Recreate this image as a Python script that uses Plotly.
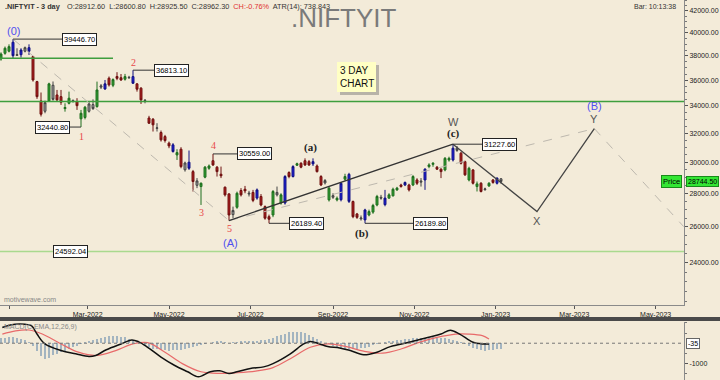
import numpy as np
import pandas as pd
import plotly.graph_objects as go

# ---------------- data ----------------
bar_dates = pd.date_range("2021-12-26", periods=126, freq="3D")

opens = [37740, 38220, 38400, 39170, 38050, 38100, 38400, 38700, 37940, 35890,
         34380, 33600, 34380, 35600, 34840, 34710, 33800, 34200, 34350, 34330,
         33040, 33140, 33600, 34100, 33950, 35450, 35310, 36160, 35600, 36300,
         36200, 36080, 36200, 36290, 35710, 35370, 34400, 33100, 33010, 32350,
         32050, 31760, 31300, 31180, 30490, 30880, 29500, 30000, 29380, 28500,
         28420, 29020, 29600, 30100, 29670, 29210, 28380, 27960, 26700, 27140,
         28170, 28250, 27950, 28050, 27700, 27800, 27180, 26580, 26680, 28050,
         27400, 27400, 29320, 29060, 29800, 29930, 30100, 30040, 29890, 29750,
         29060, 28650, 27590, 27750, 27590, 27600, 28890, 29200, 27490, 26740,
         26450, 26390, 26680, 26850, 27280, 27750, 27300, 27700, 27840, 28210,
         28520, 28520, 28520, 28520, 28840, 28700, 28840, 29710, 29860, 29670,
         29540, 29490, 30150, 30150, 30950, 30610, 30040, 28840, 29490, 28420,
         28630, 28230, 28460, 28840, 28630, 28912.6]
highs = [38300, 38800, 38990, 39446.7, 38650, 38650, 38800, 38990, 38000, 35950,
         35030, 34400, 35800, 35900, 35230, 35230, 34200, 35100, 34500, 34590,
         33700, 34000, 34380, 34500, 35890, 35700, 36020, 36300, 36150, 36650,
         36500, 36510, 36350, 36813.1, 35760, 35450, 34510, 33260, 33100, 32720,
         32190, 31880, 31410, 31300, 30880, 31020, 30040, 30790, 29490, 28960,
         28680, 29750, 29850, 30559.0, 29750, 29710, 28420, 28000, 27180, 28100,
         28320, 28460, 28150, 28210, 28300, 27950, 27250, 26700, 28200, 28420,
         28000, 29150, 29400, 29800, 29970, 30000, 30260, 30150, 30260, 29850,
         29150, 28900, 28400, 28000, 27800, 28700, 29240, 29300, 27550, 26800,
         26650, 27050, 27000, 27350, 27900, 27900, 28210, 28000, 28350, 28400,
         28600, 28740, 28600, 29150, 28950, 28960, 29600, 29930, 30000, 29750,
         29600, 30350, 30370, 31227.6, 31100, 30700, 30100, 29700, 29550, 28740,
         28700, 28350, 28700, 28900, 29000, 28962.3]
lows = [37600, 38100, 38300, 37740, 38000, 37860, 38300, 38080, 35890, 34540,
        33210, 33450, 34300, 34400, 34380, 34080, 33570, 34120, 34250, 33700,
        32440.8, 33000, 33500, 33700, 33870, 35300, 35230, 35500, 35450, 36000,
        35950, 35970, 36100, 35700, 35100, 34150, 34200, 32670, 32120, 32120,
        31410, 31340, 30950, 30650, 30150, 29600, 29380, 29490, 28110, 28320,
        27280, 28950, 29500, 29750, 29060, 28960, 27800, 26350, 26490, 27050,
        27800, 28000, 27800, 27450, 27600, 27200, 26400, 26189.4, 26550, 27800,
        27300, 27300, 28950, 29000, 29750, 29600, 29750, 29750, 29750, 29320,
        28450, 28550, 27490, 27650, 27500, 27500, 28800, 27400, 26490, 26450,
        26350, 26189.8, 26600, 26750, 27200, 27600, 27200, 27650, 27800, 28150,
        28350, 28450, 28110, 28450, 28520, 28420, 28210, 29600, 29700, 29490,
        28960, 29400, 30040, 30050, 30700, 29850, 29100, 28750, 28550, 28110,
        28050, 28150, 28400, 28600, 28550, 28600.8]
closes = [38160, 38650, 38790, 38020, 38100, 38500, 38700, 38400, 36020, 34710,
          33380, 34250, 35710, 34500, 34460, 34280, 33880, 34590, 34400, 34020,
          33450, 33900, 34150, 33800, 35230, 35550, 35710, 35630, 36050, 36150,
          36020, 36290, 36230, 35760, 35290, 34460, 34430, 32720, 32600, 32380,
          31530, 31480, 31110, 30720, 30650, 29710, 29950, 29600, 28740, 28780,
          28630, 29670, 29750, 29820, 29380, 29110, 27900, 26680, 26950, 28000,
          27900, 28150, 28000, 27560, 28210, 27280, 26490, 26430, 28110, 27900,
          27900, 29060, 29060, 29710, 29900, 29670, 29820, 29820, 30040, 29380,
          28520, 28800, 28320, 27850, 27690, 28630, 29060, 27500, 26580, 26540,
          26500, 26980, 26880, 27250, 27800, 27700, 27700, 27900, 28250, 28320,
          28420, 28680, 28210, 29060, 28630, 28760, 29540, 29820, 29930, 29540,
          29380, 30260, 30260, 30950, 30800, 29930, 29170, 29600, 28630, 28590,
          28110, 28270, 28630, 28680, 28960, 28744.5]

blue_bars = [3, 5, 7, 26, 33, 43, 47, 64, 71, 73, 78, 85, 87, 91, 96, 101, 106, 113, 124]
gray_bars = [4, 6, 11, 13, 18, 22, 23, 25, 32, 36, 39, 46, 49, 58, 62, 69, 81, 83, 90,
             95, 105, 114, 121, 125]

price_ticks = [24000, 26000, 28000, 30000, 32000, 34000, 36000, 38000, 40000, 42000]

# pivots with value boxes
pivot_bars = [3, 33, 20, 53, 67, 91, 113]
pivot_values = [39446.70, 36813.10, 32440.80, 30559.00, 26189.40, 26189.80, 31227.60]
pivot_box_dates = ["2022-02-10", "2022-04-20", "2022-02-15 18:00", "2022-06-21",
                   "2022-07-30", "2022-10-31", "2022-12-22"]
pivot_box_side = ["left", "left", "right", "left", "left", "left", "left"]

# horizontal levels
level_short = 37800
level_long = 34330
level_support = 24592.04

# projected path (c) -> X -> Y
proj_dates = ["2022-11-30", "2023-02-01", "2023-03-16"]
proj_values = [31227.6, 26880, 32330]
tail_date, tail_value = "2023-05-22", 26000

last_price = 28744.50

# MACD panel
macd_dates = ['2021-12-27', '2022-01-02', '2022-01-13', '2022-01-18', '2022-01-22', '2022-01-28',
              '2022-02-09', '2022-02-20', '2022-03-02', '2022-03-07', '2022-03-15', '2022-03-26',
              '2022-04-03', '2022-04-08', '2022-04-15', '2022-04-25', '2022-05-05', '2022-05-15',
              '2022-05-23', '2022-06-01', '2022-06-08', '2022-06-15', '2022-06-21', '2022-07-01',
              '2022-07-11', '2022-07-18', '2022-07-31', '2022-08-10', '2022-08-15', '2022-08-22',
              '2022-08-28', '2022-09-06', '2022-09-14', '2022-09-24', '2022-10-04', '2022-10-14',
              '2022-10-28', '2022-11-11', '2022-11-21', '2022-11-28', '2022-12-05', '2022-12-15',
              '2022-12-22', '2022-12-27']
macd_vals = [770, 900, 930, 850, 450, -35, -360, -520, -650, -600, -320, -35, 160, 80, -200,
             -680, -1080, -1400, -1645, -1400, -1355, -1480, -1400, -1240, -1160, -1000, -520,
             -35, 90, -35, -165, -230, -360, -565, -440, -165, 45, 285, 450, 640, 450, 45, -35, -35]
signal_dates = ['2021-12-27', '2022-01-06', '2022-01-16', '2022-01-26', '2022-02-09', '2022-02-22',
                '2022-03-08', '2022-03-22', '2022-04-04', '2022-04-15', '2022-04-28', '2022-05-11',
                '2022-05-25', '2022-06-08', '2022-06-21', '2022-07-05', '2022-07-18', '2022-07-31',
                '2022-08-15', '2022-08-28', '2022-09-11', '2022-09-24', '2022-10-08', '2022-10-22',
                '2022-11-04', '2022-11-18', '2022-12-02', '2022-12-12', '2022-12-22', '2022-12-27']
signal_vals = [450, 610, 650, 450, -35, -440, -600, -360, -35, 30, -440, -1000, -1400, -1480,
               -1450, -1370, -1195, -760, -200, -35, -165, -390, -490, -285, 30, 285, 450, 450,
               370, 205]
hist_vals = [250, 280, 290, 290, 260, 220, 150, 60,
             -150, -400, -650, -760, -720, -600, -520, -450, -380, -300, -200, -120,
             -40, 40, 100, 160, 220, 280, 320, 350, 370, 360, 330, 290, 230, 160, 80,
             -30, -120, -200, -260, -300, -330, -350, -360, -350, -340, -320, -290, -250, -200,
             -150, -100, -50,
             20, 60, 90, 100, 60, 20, 40, 80, 110, 120, 100, 90,
             120, 150, 180, 220, 280, 340, 400, 470, 530, 570, 575, 560, 500, 420, 330, 230,
             120, 20, -60, -130, -190, -230, -260, -280, -280, -270, -250, -220, -170, -110, -50,
             10, 60, 100, 130, 160, 180, 200, 220, 240, 250, 260, 270, 280, 285, 280, 270, 250,
             220, 180,
             120, 40, -60, -150, -230, -300, -340, -357, -350, -330, -300, -280]
macd_last = -35

# ---------------- styling ----------------
BG = "#F3EBD9"
SANS = "Liberation Sans, Arial, sans-serif"
SERIF = "Liberation Serif, Times New Roman, serif"
W, H, R = 720, 380, 36
PW = W - R
X_RANGE = ["2021-12-25 06:00", "2023-05-22 06:00"]
Y_RANGE = [np.log10(21840), np.log10(43030)]


def px(xp):
    return xp / PW


def py(yp):
    return 1 - yp / H


fig = go.Figure()

# ---- candles ----
up_idx, dn_idx = [], []
for i in range(len(opens)):
    if i in blue_bars or i in gray_bars:
        continue
    (up_idx if closes[i] >= opens[i] else dn_idx).append(i)


def add_candles(idx, fill, line):
    fig.add_trace(go.Candlestick(
        x=[bar_dates[i] for i in idx],
        open=[opens[i] for i in idx], high=[highs[i] for i in idx],
        low=[lows[i] for i in idx], close=[closes[i] for i in idx],
        increasing=dict(fillcolor=fill, line=dict(color=line, width=1)),
        decreasing=dict(fillcolor=fill, line=dict(color=line, width=1)),
        whiskerwidth=0, showlegend=False, hoverinfo="skip", xaxis="x", yaxis="y"))


def seg(xs, ys, color, width, dash):
    fig.add_trace(go.Scatter(x=xs, y=ys, mode="lines",
                             line=dict(color=color, width=width, dash=dash),
                             showlegend=False, hoverinfo="skip", xaxis="x", yaxis="y"))


# ---- levels ----
seg([X_RANGE[0], "2022-03-20"], [level_short, level_short], "#3E9E3E", 1.5, "solid")
seg([X_RANGE[0], X_RANGE[1]], [level_long, level_long], "#3E9E3E", 1.5, "solid")
seg([X_RANGE[0], X_RANGE[1]], [level_support, level_support], "#A9D98E", 1.5, "solid")

# ---- dashed guide lines ----
seg([bar_dates[3], bar_dates[57]], [highs[3], lows[57]], "#BDB8AE", 1, "dash")
seg([bar_dates[57], proj_dates[2]], [lows[57], proj_values[2]], "#BDB8AE", 1, "dash")
seg([proj_dates[2], tail_date], [proj_values[2], tail_value], "#BDB8AE", 1, "dash")

add_candles(up_idx, "#2F9E2F", "#1F6E1F")
add_candles(dn_idx, "#B01C1C", "#6E1010")
add_candles(gray_bars, "#A0A0A0", "#444444")
add_candles(blue_bars, "#2020E0", "#101080")

# ---- wave lines ----
seg([bar_dates[57], bar_dates[113]], [lows[57], highs[113]], "#333333", 1.3, "solid")
seg(proj_dates, proj_values, "#444444", 1.3, "solid")

# ---- pivot connectors ----
annotations = []
BOXFONT = dict(family=SANS, size=7.5, color="#000")
for b, v, d, side in zip(pivot_bars, pivot_values, pivot_box_dates, pivot_box_side):
    seg([bar_dates[b], d], [v, v], "#333333", 1, "solid")
    annotations.append(dict(x=d, y=np.log10(v), xref="x", yref="y", text=f"{v:.2f}",
                            showarrow=False, xanchor=side, yanchor="middle", font=BOXFONT,
                            bgcolor="#FFFFFF", bordercolor="#222", borderwidth=1, borderpad=1))
annotations.append(dict(x="2022-02-16", y=np.log10(level_support), xref="x", yref="y",
                        text=f"{level_support:.2f}", showarrow=False, xanchor="center",
                        yanchor="middle", font=BOXFONT,
                        bgcolor="#FFFFFF", bordercolor="#222", borderwidth=1, borderpad=1))

# ---- wave labels ----
BLUE, RED, GRAY = "#5050F0", "#E84848", "#555555"
wave_labels = [
    ("(0)", bar_dates[3], 40170, BLUE, SANS, 11, False),
    ("1", bar_dates[20], 31740, RED, SERIF, 10, False),
    ("2", bar_dates[33], 37450, RED, SERIF, 10, False),
    ("3", bar_dates[50], 26830, RED, SERIF, 10, False),
    ("4", bar_dates[53], 31110, RED, SERIF, 10, False),
    ("5", bar_dates[57], 25870, RED, SERIF, 10, False),
    ("(A)", "2022-06-16", 25090, BLUE, SANS, 11, False),
    ("(a)", "2022-08-15", 31020, "#222", SERIF, 11, True),
    ("(b)", "2022-09-23", 25580, "#222", SERIF, 11, True),
    ("(c)", bar_dates[113], 31950, "#222", SERIF, 11, True),
    ("W", bar_dates[113], 32830, GRAY, SANS, 11, False),
    ("X", proj_dates[1], 26350, GRAY, SANS, 11, False),
    ("Y", proj_dates[2], 33030, GRAY, SANS, 11, False),
    ("(B)", proj_dates[2], 34000, BLUE, SANS, 11, False),
]
for t, d, v, c, fam, sz, bold in wave_labels:
    annotations.append(dict(x=d, y=np.log10(v), xref="x", yref="y",
                            text=f"<b>{t}</b>" if bold else t, showarrow=False,
                            xanchor="center", yanchor="middle",
                            font=dict(family=fam, size=sz, color=c)))

# ---- MACD panel ----
fig.add_trace(go.Bar(x=bar_dates, y=hist_vals, marker=dict(color="#A3B4C0", line=dict(width=0)),
                     width=1.4 * 86400000, showlegend=False, hoverinfo="skip",
                     xaxis="x2", yaxis="y2"))
fig.add_trace(go.Scatter(x=signal_dates, y=signal_vals, mode="lines",
                         line=dict(color="#E86A6A", width=1.2, shape="spline"),
                         showlegend=False, hoverinfo="skip", xaxis="x2", yaxis="y2"))
fig.add_trace(go.Scatter(x=macd_dates, y=macd_vals, mode="lines",
                         line=dict(color="#111111", width=1.5, shape="spline"),
                         showlegend=False, hoverinfo="skip", xaxis="x2", yaxis="y2"))

shapes = [
    dict(type="line", xref="paper", yref="y2", x0=0, x1=1, y0=0, y1=0,
         line=dict(color="#777", width=1, dash="dot")),
    dict(type="rect", xref="paper", yref="paper", x0=0, x1=W / PW, y0=py(321), y1=py(317),
         fillcolor="#4A4A4A", line=dict(width=0)),
    dict(type="rect", xref="paper", yref="paper", x0=px(340), x1=px(379), y0=py(95), y1=py(65),
         fillcolor="#B8B3A8", line=dict(width=0)),
    dict(type="rect", xref="paper", yref="paper", x0=px(337), x1=px(376), y0=py(92), y1=py(62),
         fillcolor="#FFFFC4", line=dict(width=0)),
]

annotations += [
    dict(x=px(356.5), y=py(77), xref="paper", yref="paper", text="3 DAY<br>CHART",
         showarrow=False, xanchor="center", yanchor="middle", align="left",
         font=dict(family=SANS, size=10, color="#111")),
    dict(x=px(289), y=py(18), xref="paper", yref="paper", text=".NIFTYIT", showarrow=False,
         xanchor="left", yanchor="middle", font=dict(family=SANS, size=26, color="#7A7A7A")),
    dict(x=px(3), y=py(7), xref="paper", yref="paper", text="<b>.NIFTYIT - 3 day</b>",
         showarrow=False, xanchor="left", yanchor="middle",
         font=dict(family=SANS, size=7.3, color="#333")),
    dict(x=px(65), y=py(7), xref="paper", yref="paper",
         text="O:28912.60  L:28600.80  H:28925.50  C:28962.30  "
              "<span style='color:#E03030'>CH:-0.76%</span>  ATR(14): 738.843",
         showarrow=False, xanchor="left", yanchor="middle",
         font=dict(family=SANS, size=7.3, color="#333")),
    dict(x=px(678), y=py(6), xref="paper", yref="paper", text="Bar: 10:13:38",
         showarrow=False, xanchor="right", yanchor="middle",
         font=dict(family=SANS, size=7, color="#333")),
    dict(x=px(2), y=py(299), xref="paper", yref="paper", text="motivewave.com",
         showarrow=False, xanchor="left", yanchor="middle",
         font=dict(family=SANS, size=7, color="#888")),
    dict(x=px(2), y=py(327), xref="paper", yref="paper", text="MACD(C,EMA,12,26,9)",
         showarrow=False, xanchor="left", yanchor="middle",
         font=dict(family=SANS, size=7, color="#888")),
    dict(x=px(682), y=np.log10(last_price), xref="paper", yref="y", text="Price",
         showarrow=False, xanchor="right", yanchor="middle",
         font=dict(family=SANS, size=7.5, color="#000"), bgcolor="#33E633",
         bordercolor="#1A8A1A", borderwidth=1, borderpad=1),
    dict(x=px(686), y=np.log10(last_price), xref="paper", yref="y", text=f"{last_price:.2f}",
         showarrow=False, xanchor="left", yanchor="middle",
         font=dict(family=SANS, size=7, color="#000"), bgcolor="#33E633",
         bordercolor="#1A8A1A", borderwidth=1, borderpad=1),
    dict(x=px(686), y=macd_last, xref="paper", yref="y2", text=str(macd_last),
         showarrow=False, xanchor="left", yanchor="middle",
         font=dict(family=SANS, size=7, color="#000"), bgcolor="#FFFFFF",
         bordercolor="#666", borderwidth=1, borderpad=1),
]

minor_vals = [v for v in range(22000, 43001, 500) if v not in price_ticks]
TICKFONT = dict(family=SANS, size=7, color="#222")

fig.update_layout(
    width=W, height=H, margin=dict(l=0, r=R, t=0, b=0, autoexpand=False),
    paper_bgcolor=BG, plot_bgcolor=BG, showlegend=False, bargap=0,
    font=dict(family=SANS, size=8, color="#333"),
    xaxis=dict(domain=[0, 1], anchor="y", type="date", range=X_RANGE,
               tick0="2022-03-01", dtick="M2", tickformat="%b-%Y",
               ticks="outside", ticklen=3, tickcolor="#555",
               showline=True, linecolor="#8A8A8A", linewidth=1,
               showgrid=False, zeroline=False, rangeslider=dict(visible=False),
               tickfont=TICKFONT),
    yaxis=dict(domain=[py(305), 1], anchor="x", type="log", range=Y_RANGE, side="right",
               tickvals=price_ticks, ticktext=[f"{v:.2f}" for v in price_ticks],
               ticks="outside", ticklen=3, tickcolor="#555",
               minor=dict(tickvals=minor_vals, ticks="outside", ticklen=2, tickcolor="#777"),
               showline=True, linecolor="#8A8A8A", linewidth=1, showgrid=False,
               zeroline=False, tickfont=TICKFONT),
    xaxis2=dict(domain=[0, 1], anchor="y2", type="date", matches="x", showticklabels=False,
                ticks="", showgrid=False, zeroline=False, showline=False),
    yaxis2=dict(domain=[0, py(322)], anchor="x2", range=[-1805, 1042], side="right",
                tickvals=[-1000], ticktext=["-1000"], ticks="outside", ticklen=3,
                tickcolor="#555", minor=dict(tickvals=[-1500, -500, 500, 1000], ticks="outside",
                                             ticklen=2, tickcolor="#777"),
                showline=True, linecolor="#8A8A8A", showgrid=False, zeroline=False,
                tickfont=TICKFONT),
    shapes=shapes, annotations=annotations,
)

fig.write_html("out.html", config={"displayModeBar": False, "staticPlot": True},
               post_script="document.body.style.margin='0px';document.body.style.overflow='hidden';")
